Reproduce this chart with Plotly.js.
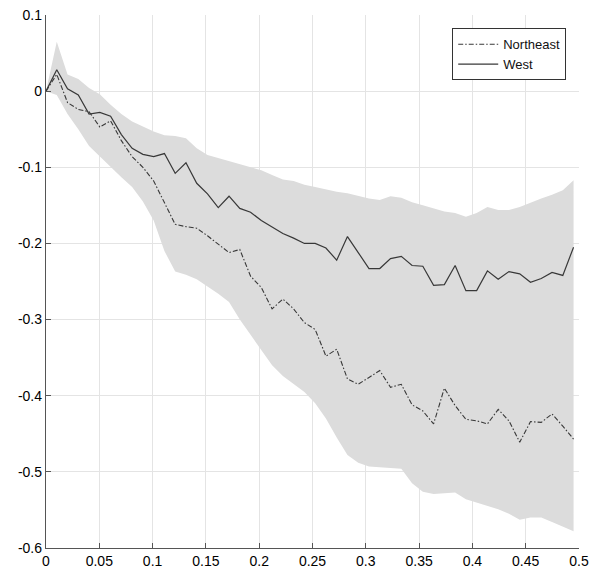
<!DOCTYPE html>
<html>
<head>
<meta charset="utf-8">
<script src="https://cdn.plot.ly/plotly-3.0.1.min.js"></script>
<style>html,body{margin:0;padding:0;background:#fff;}#chart{width:593px;height:574px;}</style>
</head>
<body>
<div id="chart"></div>
<script>
const xVals = [0, 0.0101, 0.0202, 0.0303, 0.0404, 0.0505, 0.0606, 0.0707, 0.0808, 0.0909,
  0.1010, 0.1111, 0.1212, 0.1313, 0.1414, 0.1515, 0.1616, 0.1717, 0.1818, 0.1919,
  0.2020, 0.2121, 0.2222, 0.2323, 0.2424, 0.2525, 0.2626, 0.2727, 0.2828, 0.2929,
  0.3030, 0.3131, 0.3232, 0.3333, 0.3434, 0.3535, 0.3636, 0.3737, 0.3838, 0.3939,
  0.4040, 0.4141, 0.4242, 0.4343, 0.4444, 0.4545, 0.4646, 0.4747, 0.4848, 0.4949];

const west = [0, 0.028, 0.003, -0.005, -0.030, -0.028, -0.033, -0.057, -0.075, -0.083,
  -0.086, -0.082, -0.108, -0.094, -0.121, -0.135, -0.153, -0.138, -0.154, -0.159,
  -0.170, -0.179, -0.187, -0.193, -0.200, -0.200, -0.206, -0.222, -0.191, -0.212,
  -0.233, -0.233, -0.220, -0.217, -0.229, -0.230, -0.255, -0.254, -0.229, -0.262,
  -0.262, -0.236, -0.247, -0.237, -0.240, -0.251, -0.246, -0.238, -0.242, -0.205];

const northeast = [0, 0.022, -0.015, -0.024, -0.027, -0.047, -0.039, -0.065, -0.086, -0.100,
  -0.118, -0.146, -0.175, -0.178, -0.180, -0.190, -0.201, -0.212, -0.208, -0.243,
  -0.258, -0.286, -0.273, -0.286, -0.304, -0.313, -0.348, -0.339, -0.378, -0.385,
  -0.376, -0.367, -0.389, -0.385, -0.412, -0.420, -0.437, -0.390, -0.413, -0.431,
  -0.433, -0.437, -0.418, -0.433, -0.461, -0.434, -0.435, -0.424, -0.440, -0.457];

const bandUpper = [0, 0.065, 0.022, 0.016, 0.004, -0.004, -0.018, -0.030, -0.040, -0.047,
  -0.053, -0.058, -0.059, -0.062, -0.075, -0.084, -0.088, -0.092, -0.097, -0.100,
  -0.104, -0.110, -0.116, -0.118, -0.123, -0.126, -0.129, -0.132, -0.134, -0.138,
  -0.141, -0.143, -0.138, -0.140, -0.146, -0.150, -0.154, -0.158, -0.160, -0.165,
  -0.160, -0.152, -0.156, -0.156, -0.152, -0.146, -0.141, -0.136, -0.130, -0.117];

const bandLower = [0, -0.005, -0.030, -0.050, -0.072, -0.086, -0.100, -0.113, -0.126, -0.145,
  -0.170, -0.210, -0.237, -0.241, -0.247, -0.256, -0.266, -0.277, -0.300, -0.320,
  -0.340, -0.360, -0.374, -0.384, -0.395, -0.410, -0.430, -0.455, -0.478, -0.488,
  -0.493, -0.494, -0.495, -0.496, -0.515, -0.526, -0.529, -0.528, -0.527, -0.536,
  -0.540, -0.545, -0.549, -0.555, -0.563, -0.560, -0.560, -0.566, -0.572, -0.578];

const seriesNames = ['Northeast', 'West'];
const xTickVals = [0, 0.05, 0.1, 0.15, 0.2, 0.25, 0.3, 0.35, 0.4, 0.45, 0.5];
const xTickText = ['0', '0.05', '0.1', '0.15', '0.2', '0.25', '0.3', '0.35', '0.4', '0.45', '0.5'];
const yTickVals = [0.1, 0, -0.1, -0.2, -0.3, -0.4, -0.5, -0.6];
const yTickText = ['0.1', '0', '-0.1', '-0.2', '-0.3', '-0.4', '-0.5', '-0.6'];

const bandColor = 'rgb(220,220,220)';
const lineColor = '#383838';

const traces = [
  {x: xVals, y: bandLower, type: 'scatter', mode: 'lines', line: {width: 0, color: bandColor},
   showlegend: false, hoverinfo: 'skip'},
  {x: xVals, y: bandUpper, type: 'scatter', mode: 'lines', line: {width: 0, color: bandColor},
   fill: 'tonexty', fillcolor: bandColor, showlegend: false, hoverinfo: 'skip'},
  {x: xVals, y: northeast, type: 'scatter', mode: 'lines', name: seriesNames[0],
   line: {color: lineColor, width: 1.1, dash: '5px,2px,1.5px,2px'}},
  {x: xVals, y: west, type: 'scatter', mode: 'lines', name: seriesNames[1],
   line: {color: lineColor, width: 1.2}}
];

const axisFont = {family: 'Liberation Sans, Arial, sans-serif', size: 14, color: '#000'};

const layout = {
  width: 593, height: 574,
  margin: {l: 46, r: 14, t: 15, b: 26, pad: 0},
  paper_bgcolor: '#fff', plot_bgcolor: '#fff',
  showlegend: true,
  legend: {x: 0.976, y: 0.975, xanchor: 'right', yanchor: 'top', traceorder: 'normal',
    bgcolor: '#fff', bordercolor: '#333', borderwidth: 1,
    font: {family: 'Liberation Sans, Arial, sans-serif', size: 13, color: '#111'},
    tracegroupgap: 0, itemwidth: 40},
  xaxis: {range: [0, 0.5], tickvals: xTickVals, ticktext: xTickText,
    showgrid: true, gridcolor: '#e4e4e4', gridwidth: 1, zeroline: false,
    showline: true, linecolor: '#555', linewidth: 1.2,
    ticks: 'inside', ticklen: 5, tickcolor: '#555', tickfont: axisFont},
  yaxis: {range: [-0.6, 0.1], tickvals: yTickVals, ticktext: yTickText,
    showgrid: true, gridcolor: '#e4e4e4', gridwidth: 1, zeroline: false,
    showline: true, linecolor: '#555', linewidth: 1.2,
    ticks: 'inside', ticklen: 5, tickcolor: '#555', tickfont: axisFont}
};

Plotly.newPlot('chart', traces, layout, {displayModeBar: false, staticPlot: true});
</script>
</body>
</html>
